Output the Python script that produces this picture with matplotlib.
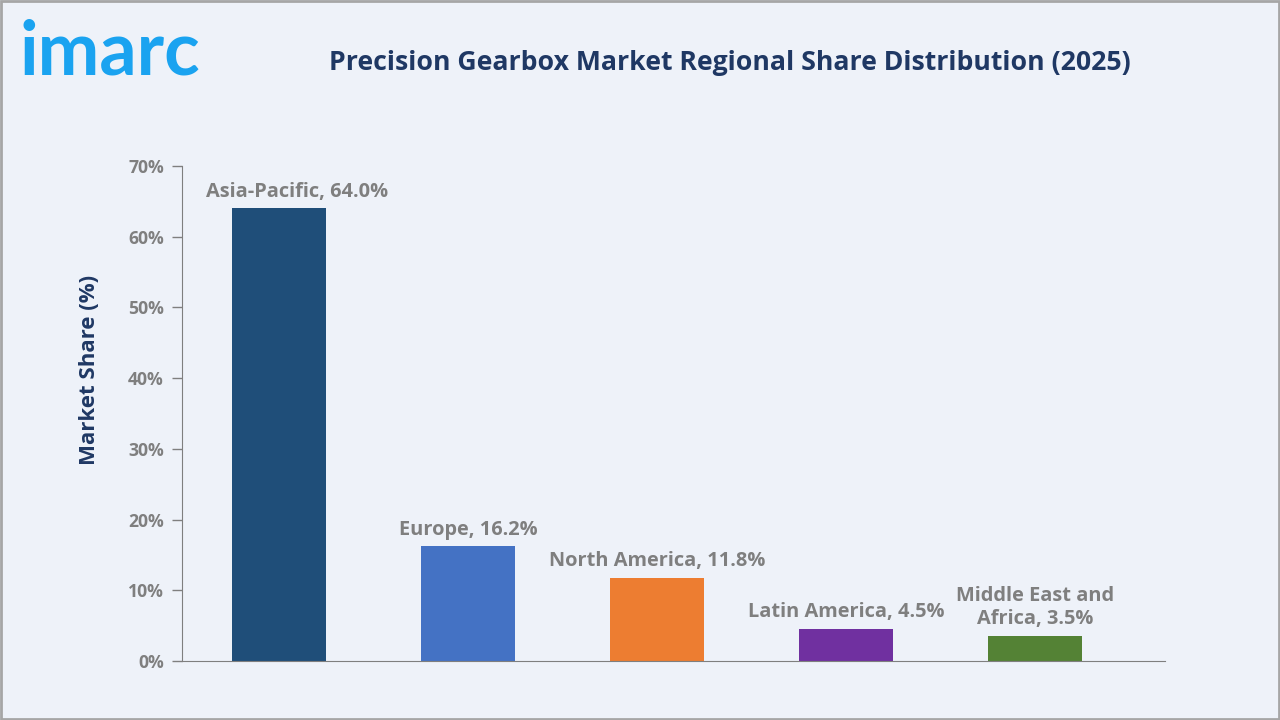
import matplotlib.pyplot as plt
from matplotlib.patches import Rectangle

regions = ['Asia-Pacific', 'Europe', 'North America', 'Latin America', 'Middle East and\nAfrica']
shares = [64.0, 16.2, 11.8, 4.5, 3.5]
colors = ['#1F4E79', '#4472C4', '#ED7D31', '#7030A0', '#548235']
yticks = [0, 10, 20, 30, 40, 50, 60, 70]

plt.rcParams['font.family'] = ['Open Sans', 'DejaVu Sans']
bg = '#EEF2F9'
gray = '#7F7F7F'
navy = '#1F3864'

fig = plt.figure(figsize=(12.8, 7.2), dpi=100, facecolor=bg)
fig.patches.append(Rectangle((0.001, 0.001), 0.998, 0.997, transform=fig.transFigure,
                             fill=False, edgecolor='#A6A6A6', linewidth=2))

ax = fig.add_axes([0.1422, 0.0819, 0.7680, 0.6875])
ax.set_facecolor(bg)
x = list(range(len(regions)))
ax.bar(x, shares, width=0.5, color=colors)
ax.set_xlim(-0.513, 4.688)
ax.set_ylim(0, 70)
ax.set_yticks(yticks)
ax.set_yticklabels([f'{v}%' for v in yticks], color=gray, fontsize=12.7, fontweight='bold')
ax.set_xticks([])
for s in ['top', 'right']:
    ax.spines[s].set_visible(False)
ax.spines['left'].set_color(gray)
ax.spines['bottom'].set_color(gray)
ax.tick_params(axis='y', colors=gray, length=7, width=1, pad=6, labelcolor=gray)
ax.set_ylabel('Market Share (%)', color=navy, fontsize=16, fontweight='bold')
ax.yaxis.set_label_coords(-0.083, 0.588)

# first label is nudged right so it clears the axis
shifts = [13, 0, 0, 0, 0]
for xi, v, name, dx in zip(x, shares, regions, shifts):
    ax.annotate(f'{name}, {v}%', (xi, v), xytext=(dx, 5), textcoords='offset points',
                ha='center', va='bottom', color=gray, fontsize=14.4, fontweight='bold',
                linespacing=1.25)

fig.text(0.570, 0.913, 'Precision Gearbox Market Regional Share Distribution (2025)',
         ha='center', va='center', color=navy, fontsize=19.2, fontweight='bold')
fig.text(0.015, 0.896, 'imarc', ha='left', va='baseline', color='#1AA3F0',
         fontsize=53, fontweight='bold', family=['Lato', 'DejaVu Sans'])

fig.savefig('out.png', dpi=100, facecolor=bg)
